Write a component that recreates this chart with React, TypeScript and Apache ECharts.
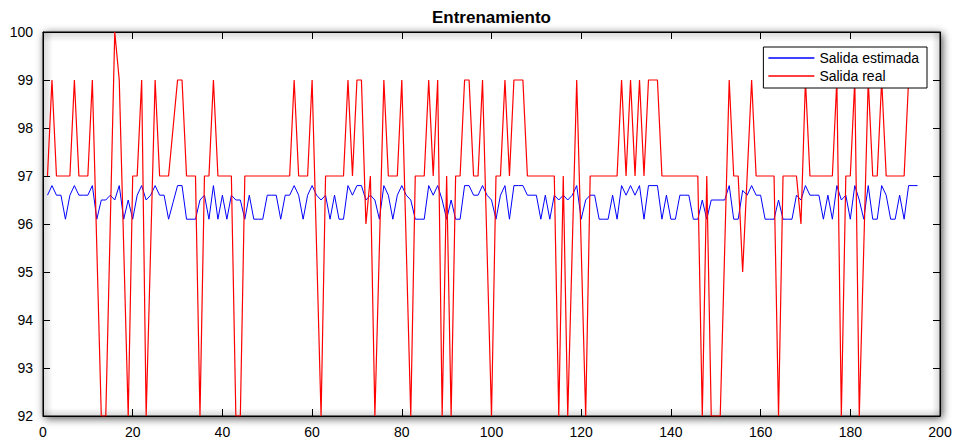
import React, { useEffect, useRef } from "react";
import * as echarts from "echarts";

// Sample index runs 1..N for both series
const realOutput: number[] = [
  97, 99, 97, 97, 97, 97, 99, 97, 97, 97,
  99, 95.5, 92, 92, 96, 100, 99, 95.5, 92, 97,
  97, 99, 92, 95.5, 99, 97, 97, 97, 98, 99,
  99, 97, 97, 97, 92, 97, 97, 99, 97, 97,
  97, 97, 92, 92, 97, 97, 97, 97, 97, 97,
  97, 97, 97, 97, 97, 99, 97, 97, 97, 99,
  95.5, 92, 97, 97, 97, 97, 97, 99, 97, 99,
  99, 96, 97, 92, 95.5, 99, 97, 97, 97, 99,
  95.5, 92, 97, 97, 97, 99, 97, 99, 92, 97,
  92, 97, 97, 99, 99, 97, 97, 99, 95.5, 92,
  97, 97, 99, 97, 99, 99, 99, 97, 97, 97,
  97, 97, 97, 97, 92, 97, 92, 95.5, 99, 95.5,
  92, 97, 97, 97, 97, 97, 97, 97, 99, 97,
  99, 97, 99, 97, 99, 99, 99, 97, 97, 97,
  97, 97, 97, 97, 97, 97, 92, 97, 92, 92,
  92, 95.5, 99, 97, 97, 95, 97, 99, 97, 97,
  97, 97, 97, 92, 97, 97, 97, 97, 96, 99,
  97, 97, 97, 97, 97, 97, 99, 92, 97, 97,
  99, 92, 95.5, 99, 97, 97, 99, 97, 97, 97,
  97, 97, 99, 99, 99,
];

const estimatedOutput: number[] = [
  96.6, 96.8, 96.6, 96.6, 96.1, 96.6, 96.8, 96.6, 96.6, 96.6,
  96.8, 96.1, 96.5, 96.5, 96.6, 96.5, 96.8, 96.1, 96.5, 96.1,
  96.6, 96.8, 96.5, 96.6, 96.8, 96.6, 96.6, 96.1, 96.45, 96.8,
  96.8, 96.1, 96.1, 96.1, 96.5, 96.6, 96.1, 96.8, 96.1, 96.6,
  96.1, 96.6, 96.5, 96.5, 96.1, 96.6, 96.1, 96.1, 96.1, 96.6,
  96.6, 96.6, 96.1, 96.6, 96.6, 96.8, 96.6, 96.1, 96.6, 96.8,
  96.6, 96.5, 96.6, 96.1, 96.6, 96.1, 96.1, 96.8, 96.6, 96.8,
  96.8, 96.5, 96.6, 96.5, 96.1, 96.8, 96.6, 96.1, 96.6, 96.8,
  96.6, 96.5, 96.1, 96.1, 96.1, 96.8, 96.6, 96.8, 96.5, 96.1,
  96.5, 96.1, 96.1, 96.8, 96.8, 96.6, 96.6, 96.8, 96.6, 96.5,
  96.1, 96.6, 96.8, 96.1, 96.8, 96.8, 96.8, 96.6, 96.6, 96.6,
  96.1, 96.6, 96.1, 96.6, 96.5, 96.6, 96.5, 96.6, 96.8, 96.1,
  96.5, 96.6, 96.6, 96.1, 96.1, 96.1, 96.6, 96.1, 96.8, 96.6,
  96.8, 96.6, 96.8, 96.1, 96.8, 96.8, 96.8, 96.1, 96.6, 96.1,
  96.1, 96.6, 96.6, 96.6, 96.1, 96.1, 96.5, 96.1, 96.5, 96.5,
  96.5, 96.5, 96.8, 96.1, 96.1, 96.7, 96.6, 96.8, 96.6, 96.6,
  96.1, 96.1, 96.1, 96.5, 96.1, 96.1, 96.1, 96.6, 96.5, 96.8,
  96.6, 96.6, 96.6, 96.1, 96.6, 96.1, 96.8, 96.5, 96.6, 96.1,
  96.8, 96.5, 96.1, 96.8, 96.1, 96.1, 96.8, 96.6, 96.1, 96.1,
  96.6, 96.1, 96.8, 96.8, 96.8,
];

const seriesNames = ["Salida estimada", "Salida real"];
const titleText = "Entrenamiento";

const W = 955;
const H = 441;
const GRID = { left: 43, right: 15, top: 32, bottom: 25 };
const FONT = "'Liberation Sans', Arial, Helvetica, sans-serif";

export default function App() {
  const ref = useRef<HTMLDivElement>(null);
  useEffect(() => {
    const chart = echarts.init(ref.current!, null, { renderer: "svg" });
    const est = estimatedOutput.map((v, i) => [i + 1, v]);
    const real = realOutput.map((v, i) => [i + 1, v]);

    const axisLine = { show: true, onZero: false, lineStyle: { color: "#000", width: 1 } };
    const axisTick = { show: true, inside: true, length: 7, lineStyle: { color: "#000", width: 1 } };
    const label = { fontFamily: FONT, fontSize: 14, color: "#000" };

    const gw = W - GRID.left - GRID.right;
    const gh = H - GRID.top - GRID.bottom;
    const shade = (x0: number, y0: number, x1: number, y1: number) =>
      new echarts.graphic.LinearGradient(x0, y0, x1, y1, [
        { offset: 0, color: "rgba(0,0,0,0.15)" },
        { offset: 1, color: "rgba(0,0,0,0)" },
      ]);

    chart.setOption({
      animation: false,
      backgroundColor: "#fff",
      title: {
        text: titleText,
        left: 491.5,
        top: 9,
        textAlign: "center",
        padding: 0,
        textStyle: { fontFamily: FONT, fontSize: 17, fontWeight: "bold", color: "#000" },
      },
      grid: {
        ...GRID,
        show: true,
        backgroundColor: "#fff",
        borderColor: "#000",
        borderWidth: 1,
        shadowBlur: 9,
        shadowColor: "rgba(0,0,0,0.7)",
        shadowOffsetX: 2,
        shadowOffsetY: 2,
      },
      xAxis: [
        {
          type: "value", min: 0, max: 200, interval: 20, position: "bottom",
          axisLine, axisTick, axisLabel: { ...label, margin: 9 }, splitLine: { show: false },
        },
        {
          type: "value", min: 0, max: 200, interval: 20, position: "top",
          axisLine, axisTick, axisLabel: { show: false }, splitLine: { show: false },
        },
      ],
      yAxis: [
        {
          type: "value", min: 92, max: 100, interval: 1, position: "left",
          axisLine, axisTick, axisLabel: { ...label, margin: 10 }, splitLine: { show: false },
        },
        {
          type: "value", min: 92, max: 100, interval: 1, position: "right",
          axisLine, axisTick, axisLabel: { show: false }, splitLine: { show: false },
        },
      ],
      legend: {
        data: seriesNames,
        orient: "vertical",
        right: 28,
        top: 47,
        padding: [4, 8, 5, 5],
        itemGap: 4,
        itemWidth: 46,
        itemHeight: 1.5,
        icon: "rect",
        backgroundColor: "#fff",
        borderColor: "#000",
        borderWidth: 1,
        borderRadius: 0,
        textStyle: { fontFamily: FONT, fontSize: 14, color: "#000" },
        z: 20,
      },
      graphic: [
        { type: "rect", z: 1, silent: true, shape: { x: GRID.left, y: GRID.top, width: 10, height: gh }, style: { fill: shade(0, 0, 1, 0) } },
        { type: "rect", z: 1, silent: true, shape: { x: GRID.left, y: GRID.top, width: gw, height: 10 }, style: { fill: shade(0, 0, 0, 1) } },
        { type: "rect", z: 1, silent: true, shape: { x: GRID.left + gw - 8, y: GRID.top, width: 8, height: gh }, style: { fill: shade(1, 0, 0, 0) } },
        { type: "rect", z: 1, silent: true, shape: { x: GRID.left, y: GRID.top + gh - 8, width: gw, height: 8 }, style: { fill: shade(0, 1, 0, 0) } },
      ],
      series: [
        {
          name: seriesNames[0], type: "line", data: est, symbol: "none",
          lineStyle: { color: "#0000ff", width: 1 }, itemStyle: { color: "#0000ff" }, z: 3,
        },
        {
          name: seriesNames[1], type: "line", data: real, symbol: "none",
          lineStyle: { color: "#ff0000", width: 1.2 }, itemStyle: { color: "#ff0000" }, z: 4,
        },
      ],
    });
    return () => chart.dispose();
  }, []);
  return <div ref={ref} style={{ position: "fixed", left: 0, top: 0, width: W, height: H }} />;
}
